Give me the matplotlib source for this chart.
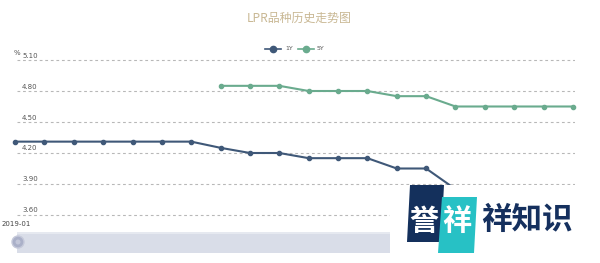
import matplotlib
matplotlib.use("Agg")
import matplotlib.pyplot as plt
from matplotlib.patches import Rectangle, Polygon, Circle

plt.rcParams['font.family'] = ['Noto Sans CJK SC', 'DejaVu Sans']

months = ["2019-01", "2019-02", "2019-03", "2019-04", "2019-05", "2019-06", "2019-07",
          "2019-08", "2019-09", "2019-10", "2019-11", "2019-12", "2020-01", "2020-02",
          "2020-03", "2020-04", "2020-05", "2020-06", "2020-07", "2020-08"]
lpr_1y = [4.31, 4.31, 4.31, 4.31, 4.31, 4.31, 4.31, 4.25, 4.20, 4.20, 4.15, 4.15,
          4.15, 4.05, 4.05, 3.85, 3.85, 3.85, 3.85, 3.85]
lpr_5y = [None] * 7 + [4.85, 4.85, 4.85, 4.80, 4.80, 4.80, 4.75, 4.75, 4.65, 4.65,
                       4.65, 4.65, 4.65]
yticks = [3.60, 3.90, 4.20, 4.50, 4.80, 5.10]
title = "LPR品种历史走势图"

W, H = 600, 263
fig = plt.figure(figsize=(6, 2.63), dpi=100)
fig.patch.set_facecolor("white")

# main axes: x 13..575 px, y ~58..217 px
left, right = 13, 575
top, bottom = 58.0, 217.0
ax = fig.add_axes([left / W, 1 - bottom / H, (right - left) / W, (bottom - top) / H])
ax.set_xlim(-0.07, 19.07)
ax.set_ylim(3.60 - 2 / 103.3, 5.10 + 2 / 103.3)
ax.set_facecolor("none")
for s in ax.spines.values():
    s.set_visible(False)
ax.set_xticks([])
ax.set_yticks([])
for v in yticks:
    ax.axhline(v, xmin=0.008, xmax=1.0, color="#b8b8b8", lw=0.8, ls=(0, (2.5, 2.5)), zorder=1)
    ax.annotate(f"{v:.2f}", xy=(0, v), xycoords=("axes fraction", "data"),
                xytext=(9, 1.5), textcoords="offset pixels", fontsize=5, color="#555555",
                va="bottom", ha="left", family="DejaVu Sans")

c1 = "#3f5878"
c5 = "#6aab8e"
x = list(range(len(months)))
ax.plot(x, lpr_1y, color=c1, lw=1.5, marker="o", ms=3, zorder=3, clip_on=False)
x5 = [i for i, v in enumerate(lpr_5y) if v is not None]
y5 = [v for v in lpr_5y if v is not None]
ax.plot(x5, y5, color=c5, lw=1.5, marker="o", ms=3, zorder=3, clip_on=False)

# overlay in pixel coords
ov = fig.add_axes([0, 0, 1, 1])
ov.set_xlim(0, W)
ov.set_ylim(H, 0)
ov.axis("off")
ov.set_zorder(5)
ov.patch.set_alpha(0)

ov.text(299, 18, title, ha="center", va="center", fontsize=8.6, color="#c9b894")
ov.text(14, 53, "%", ha="left", va="center", fontsize=5, color="#555555", family="DejaVu Sans")

# legend
ov.plot([265, 281], [49, 49], color=c1, lw=1.2)
ov.plot([273], [49], marker="o", ms=4.5, color=c1)
ov.text(285, 49, "1Y", ha="left", va="center", fontsize=4.5, color="#555555", family="DejaVu Sans")
ov.plot([298, 314], [49, 49], color=c5, lw=1.2)
ov.plot([306], [49], marker="o", ms=4.5, color=c5)
ov.text(317, 49, "5Y", ha="left", va="center", fontsize=4.5, color="#555555", family="DejaVu Sans")

ov.text(16, 224, months[0], ha="center", va="center", fontsize=5, color="#444444",
        family="DejaVu Sans")

# data zoom slider
ov.add_patch(Rectangle((17, 232), 560, 21, facecolor="#d9dde8", edgecolor="none"))
ov.add_patch(Rectangle((17, 232), 560, 2, facecolor="#e6e9f0", edgecolor="none"))
ov.add_patch(Circle((18, 242), 6, facecolor="#aab0c8", edgecolor="#c5c9da", lw=1))
ov.add_patch(Circle((18, 242), 2.5, facecolor="#c3c7d9", edgecolor="none"))

# watermark
ov.add_patch(Rectangle((390, 185), 190, 72, facecolor="white", edgecolor="none"))
ov.add_patch(Polygon([(410, 185), (444, 185), (441, 242), (407, 242)],
                     facecolor="#14305c", edgecolor="none"))
ov.add_patch(Polygon([(442, 197), (477, 197), (474, 253), (438, 253)],
                     facecolor="#27c1c5", edgecolor="none"))
ov.text(424, 221, "誉", ha="center", va="center", fontsize=21, color="white", weight="bold")
ov.text(457, 221, "祥", ha="center", va="center", fontsize=21, color="white", weight="bold")
ov.text(527, 220, "祥知识", ha="center", va="center", fontsize=22, color="#15305e", weight="bold")

fig.savefig("out.png", dpi=100, facecolor="white")
